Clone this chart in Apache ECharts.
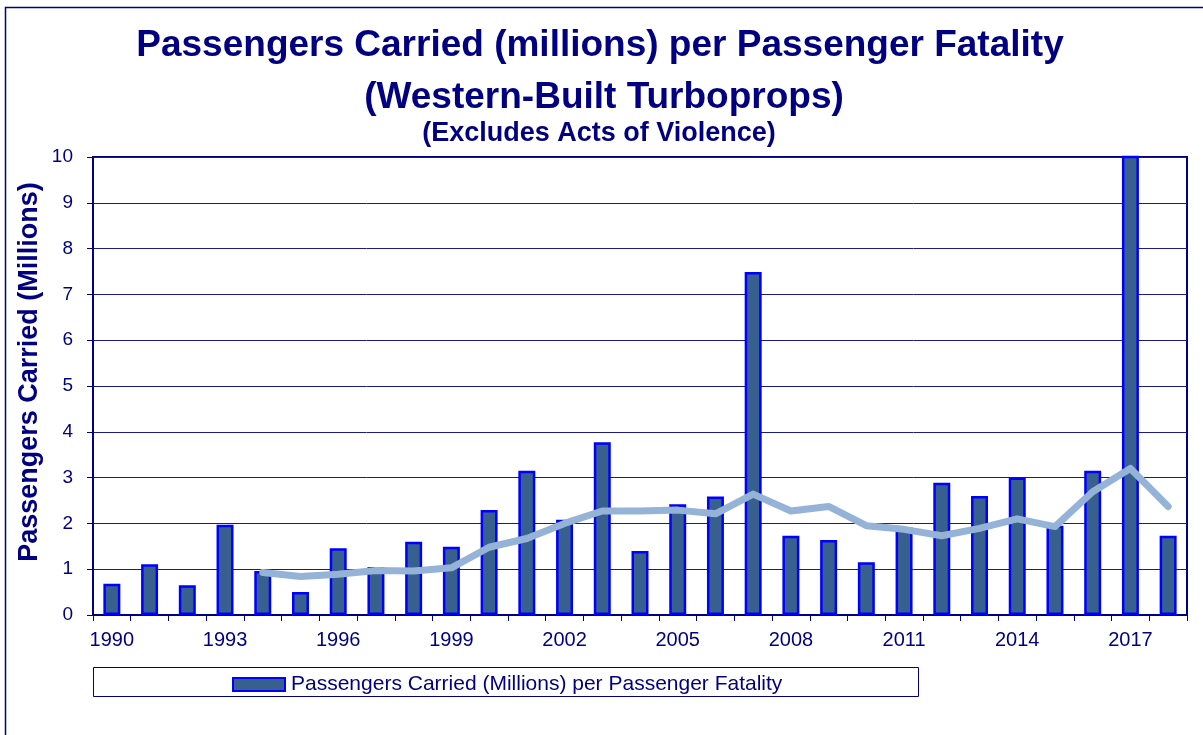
<!DOCTYPE html>
<html>
<head>
<meta charset="utf-8">
<script src="https://cdn.jsdelivr.net/npm/echarts@6/dist/echarts.min.js"></script>
<style>
html,body{margin:0;padding:0;background:#fff;}
#chart{width:1203px;height:735px;}
</style>
</head>
<body>
<div id="chart"></div>
<script>
var years = ['1990','1991','1992','1993','1994','1995','1996','1997','1998','1999',
             '2000','2001','2002','2003','2004','2005','2006','2007','2008','2009',
             '2010','2011','2012','2013','2014','2015','2016','2017','2018'];
var passengersPerFatality = [0.68, 1.11, 0.65, 1.97, 0.96, 0.50, 1.46, 1.05, 1.60, 1.49,
                             2.29, 3.15, 2.08, 3.77, 1.40, 2.42, 2.59, 7.49, 1.73, 1.64,
                             1.15, 1.91, 2.89, 2.60, 3.00, 1.95, 3.15, 12.0, 1.73];
var movingAverage = [null, null, null, null, 0.93, 0.84, 0.89, 0.97, 0.96, 1.03,
                     1.48, 1.67, 2.00, 2.27, 2.27, 2.29, 2.21, 2.64, 2.27, 2.37,
                     1.95, 1.87, 1.73, 1.89, 2.10, 1.93, 2.69, 3.20, 2.37];
var yTicks = [0, 10, 1];

var NAVY = '#000080';
var FONT = 'Liberation Sans, Arial, sans-serif';
var chart = echarts.init(document.getElementById('chart'), null, {renderer: 'canvas'});
var option = {
  backgroundColor: '#ffffff',
  animation: false,
  graphic: [
    {type: 'rect', shape: {x: 5.5, y: 7.5, width: 1300, height: 800}, style: {fill: 'none', stroke: NAVY, lineWidth: 1.5}, silent: true, z: -10},
    {type: 'rect', shape: {x: 93.5, y: 667.5, width: 825, height: 29}, style: {fill: 'none', stroke: NAVY, lineWidth: 1}, silent: true},
    {type: 'text', x: 600, y: 46, style: {text: 'Passengers Carried (millions) per Passenger Fatality', fill: NAVY, font: 'bold 37px ' + FONT, textAlign: 'center', textVerticalAlign: 'middle'}},
    {type: 'text', x: 604, y: 98, style: {text: '(Western-Built Turboprops)', fill: NAVY, font: 'bold 37px ' + FONT, textAlign: 'center', textVerticalAlign: 'middle'}},
    {type: 'text', x: 599, y: 134, style: {text: '(Excludes Acts of Violence)', fill: NAVY, font: 'bold 27px ' + FONT, textAlign: 'center', textVerticalAlign: 'middle'}},
    {type: 'text', x: 30, y: 372, rotation: Math.PI / 2, style: {text: 'Passengers Carried (Millions)', fill: NAVY, font: 'bold 27px ' + FONT, textAlign: 'center', textVerticalAlign: 'middle'}}
  ],
  legend: {
    data: [{name: 'Passengers Carried (Millions) per Passenger Fatality', icon: 'rect'}],
    top: 669,
    left: 227,
    itemWidth: 52,
    itemHeight: 13,
    textStyle: {color: NAVY, fontSize: 21, fontFamily: FONT, padding: [0, 0, 0, 1]},
    selectedMode: false
  },
  grid: {left: 93, right: 16, top: 157, bottom: 120, show: true, borderColor: NAVY, borderWidth: 2, backgroundColor: 'transparent'},
  xAxis: {
    type: 'category',
    data: years,
    boundaryGap: true,
    axisLine: {lineStyle: {color: NAVY, width: 2}},
    axisTick: {show: true, interval: 0, length: 6, lineStyle: {color: NAVY, width: 1}},
    axisLabel: {interval: 2, color: NAVY, fontSize: 20, fontFamily: FONT, margin: 15},
    splitLine: {show: false}
  },
  yAxis: {
    type: 'value',
    min: yTicks[0],
    max: yTicks[1],
    interval: yTicks[2],
    axisLine: {show: true, lineStyle: {color: NAVY, width: 2}},
    axisTick: {show: true, length: 6, lineStyle: {color: NAVY, width: 1}},
    axisLabel: {color: NAVY, fontSize: 19, fontFamily: FONT, margin: 20},
    splitLine: {show: true, lineStyle: {color: '#1a1a8c', width: 1}}
  },
  series: [
    {
      name: 'Passengers Carried (Millions) per Passenger Fatality',
      type: 'bar',
      data: passengersPerFatality,
      barWidth: '45%',
      clip: true,
      itemStyle: {color: '#37608F', borderColor: '#0000FF', borderWidth: 2.5},
      z: 2
    },
    {
      name: 'Moving average',
      type: 'line',
      data: movingAverage,
      symbol: 'none',
      connectNulls: false,
      lineStyle: {color: '#95B3D7', width: 7, cap: 'round', join: 'round'},
      itemStyle: {color: '#95B3D7'},
      z: 3
    }
  ]
};
chart.setOption(option);
</script>
</body>
</html>
